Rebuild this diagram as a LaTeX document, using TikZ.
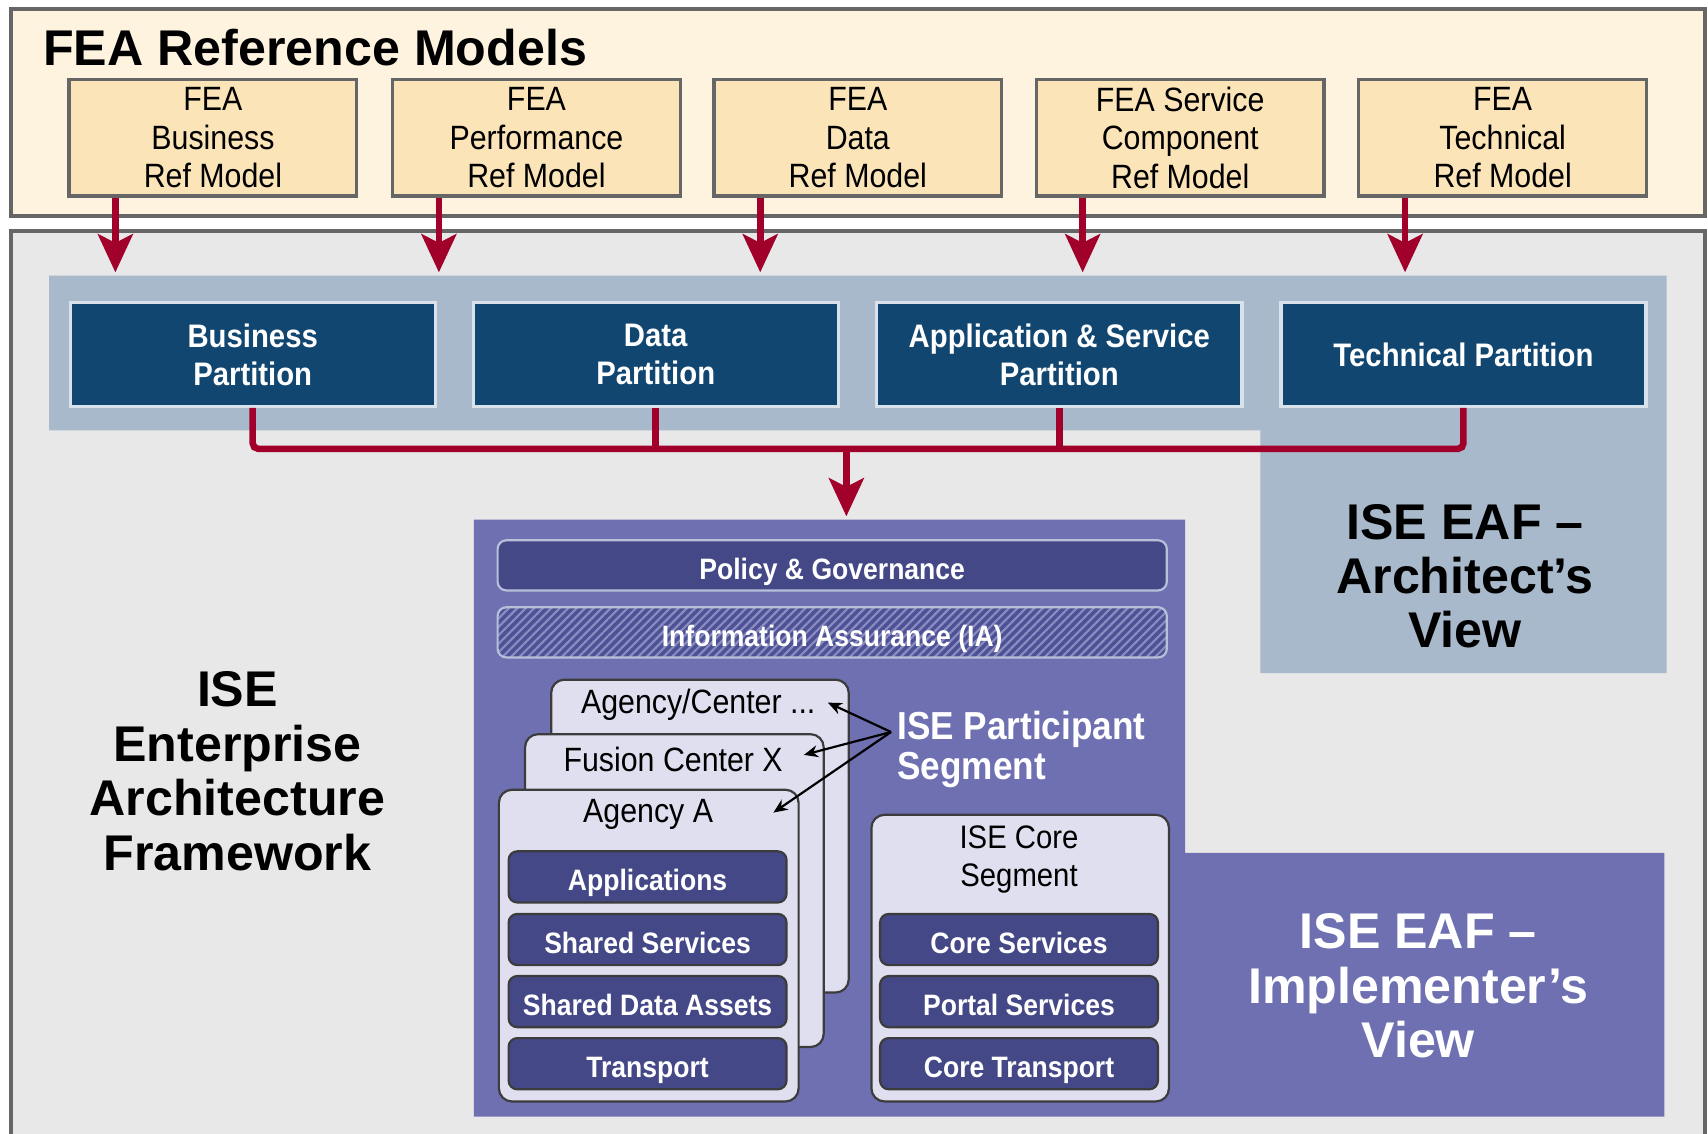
\documentclass[tikz,border=0pt]{standalone}
\usepackage{fontspec}
\setmainfont{Liberation Sans}
\newfontfamily\narrowfont[FakeStretch=0.9]{Liberation Sans}
\usetikzlibrary{arrows.meta,patterns.meta,positioning,calc}

\definecolor{creambg}{HTML}{FDF3DF}
\definecolor{feafill}{HTML}{FCE4B9}
\definecolor{framegrey}{HTML}{666666}
\definecolor{greybg}{HTML}{E8E8E8}
\definecolor{bandblue}{HTML}{A7B9CB}
\definecolor{partblue}{HTML}{114670}
\definecolor{partedge}{HTML}{D9E1EA}
\definecolor{crimson}{HTML}{A1002A}
\definecolor{isepurple}{HTML}{6E70B2}
\definecolor{barindigo}{HTML}{454887}
\definecolor{iabase}{HTML}{4D5195}
\definecolor{cardfill}{HTML}{E0DFF0}
\definecolor{cardedge}{HTML}{3C3C3C}

\tikzset{
  feabox/.style={draw=framegrey, fill=feafill, line width=0.03cm, inner sep=0,
    minimum width=2.64cm, minimum height=1.07cm, align=center,
    font=\narrowfont\fontsize{8.8}{10}\selectfont},
  partbox/.style={draw=partedge, fill=partblue, line width=0.03cm, inner sep=0,
    minimum width=3.35cm, minimum height=0.95cm, align=center, text=white,
    font=\narrowfont\bfseries\fontsize{8.5}{10}\selectfont},
  widebar/.style={draw=partedge!70!isepurple, fill=barindigo, line width=0.02cm,
    rounded corners=0.08cm, inner sep=0, minimum width=6.14cm, minimum height=0.46cm,
    text=white, text height=1.38ex, text depth=0pt,
    font=\narrowfont\bfseries\fontsize{7.7}{9}\selectfont},
  card/.style={draw=cardedge, fill=cardfill, line width=0.02cm,
    rounded corners=0.12cm, inner sep=0, anchor=north west},
  layerbar/.style={draw=cardedge, fill=barindigo, line width=0.02cm,
    rounded corners=0.08cm, inner sep=0, minimum width=2.55cm, minimum height=0.47cm,
    text=white, text height=1.38ex, text depth=0pt,
    font=\narrowfont\bfseries\fontsize{7.7}{9}\selectfont},
  cardtext/.style={inner sep=0, align=center, font=\narrowfont\fontsize{8.8}{10}\selectfont},
  bigtext/.style={inner sep=0, align=center, font=\bfseries\fontsize{13.1}{14.2}\selectfont},
  redline/.style={draw=crimson, line width=0.06cm},
  redarrow/.style={redline, -{Stealth[length=0.35cm, width=0.32cm, inset=0.08cm]}},
  callout/.style={draw=black, line width=0.02cm, -{Stealth[length=0.13cm, width=0.11cm]}}
}

\begin{document}
\begin{tikzpicture}[x=0.01cm, y=-0.01cm]

\useasboundingbox (0,0) rectangle (1568,1041);
\clip (0,0) rectangle (1568,1041);
\fill[white] (0,0) rectangle (1568,1041);

% Outer frames
\draw[framegrey, line width=0.04cm, fill=creambg] (10,8) rectangle (1565,198);
\draw[framegrey, line width=0.04cm, fill=greybg] (10,212) rectangle (1565,1070);

\node[anchor=base west, inner sep=0, font=\bfseries\fontsize{13.1}{14.2}\selectfont]
  (title) at (39,60) {FEA Reference Models};

% FEA reference model boxes
\foreach \n/\x/\txt in {fea1/195.5/{FEA\\Business\\Ref Model},
                        fea2/492.5/{FEA\\Performance\\Ref Model},
                        fea3/787.5/{FEA\\Data\\Ref Model},
                        fea4/1083.5/{FEA Service\\Component\\Ref Model},
                        fea5/1379.5/{FEA\\Technical\\Ref Model}}
  \node[feabox] (\n) at (\x,126.5) {\txt};

% Architect's view band
\fill[bandblue] (45,253) -- (1530,253) -- (1530,618) -- (1157,618)
  -- (1157,395) -- (45,395) -- cycle;

% Partitions
\node[partbox] (part1) at (232,325.5) {Business\\Partition};
\node[partbox] (part2) at (602,325.5) {Data\\Partition};
\node[partbox] (part3) at (972.5,325.5) {Application \& Service\\Partition};
\node[partbox] (part4) at (1343.5,325.5) {Technical Partition};

% Arrows from FEA models into the band
\coordinate (fealink) at (0,250);
\foreach \n in {fea1,fea2,fea3,fea4,fea5}
  \draw[redarrow] ($(\n.south west)+(44,0)$) coordinate (src) -- (src |- fealink);

% Implementer's view block
\fill[isepurple] (435,477) -- (1088,477) -- (1088,783) -- (1528,783)
  -- (1528,1025) -- (435,1025) -- cycle;
\coordinate (ptop) at (0,474);

% Partition bus and drop into the implementer's view
\coordinate (bus) at (0,412);
\draw[redline, rounded corners=0.05cm] (part1.south) |- (part4.south |- bus) -- (part4.south);
\foreach \p in {part2,part3}
  \draw[redline] (\p.south) -- (\p.south |- bus);
\coordinate (drop) at (777,412);
\draw[redarrow] (drop) -- (drop |- ptop);

% Policy and IA bars
\node[widebar] (policy) at (764,519) {Policy \& Governance};
\node[widebar, fill=none, preaction={fill=iabase},
  pattern={Lines[angle=45, distance=0.055cm, line width=0.02cm]},
  pattern color=isepurple!80!white] (ia) at (764,580.5) {};
\node[text=white, inner sep=0, text height=1.38ex, text depth=0pt,
  font=\narrowfont\bfseries\fontsize{7.7}{9}\selectfont]
  (iatext) at (ia.center) {Information Assurance (IA)};

% Participant cards
\node[card, minimum width=2.73cm, minimum height=2.87cm] (cardc) at (505,623) {};
\node[cardtext] (agc) at (641,647) {Agency/Center ...};
\node[card, minimum width=2.74cm, minimum height=2.87cm] (cardf) at (481,673) {};
\node[cardtext] (agf) at (618,697) {Fusion Center X};
\node[card, minimum width=2.75cm, minimum height=2.86cm] (carda) at (457,724) {};
\node[cardtext] (aga) at (595,748) {Agency A};

\node[layerbar] (apps) at (594.5,805) {Applications};
\node[layerbar] (shsvc) at (594.5,862.5) {Shared Services};
\node[layerbar] (shdata) at (594.5,919.5) {Shared Data Assets};
\node[layerbar] (trans) at (594.5,976.5) {Transport};

% Core segment card
\node[card, minimum width=2.73cm, minimum height=2.63cm] (core) at (799,747) {};
\node[cardtext, font=\narrowfont\fontsize{8.5}{10}\selectfont] (coretext) at (935.5,789) {ISE Core\\Segment};
\node[layerbar] (coresvc) at (935.5,862.5) {Core Services};
\node[layerbar] (portal) at (935.5,919.5) {Portal Services};
\node[layerbar] (coretr) at (935.5,976.5) {Core Transport};

% Participant segment callout
\node[anchor=west, inner sep=0, align=left, text=white,
  font=\narrowfont\bfseries\fontsize{10.2}{10.6}\selectfont]
  (partseg) at (823,688) {ISE Participant\\Segment};
\coordinate (segsrc) at (818,672);
\coordinate (tipc) at (760,645);
\coordinate (tipf) at (738,693);
\coordinate (tipa) at (710,746);
\foreach \t in {tipc,tipf,tipa}
  \draw[callout] (segsrc) -- (\t);

% View labels
\node[bigtext] (framework) at (218,708) {ISE\\Enterprise\\Architecture\\Framework};
\node[bigtext] (archview) at (1345,529) {ISE EAF –\\Architect’s\\View};
\node[bigtext, text=white] (implview) at (1302,905) {ISE EAF –\\Implementer’s\\View};

\end{tikzpicture}
\end{document}
